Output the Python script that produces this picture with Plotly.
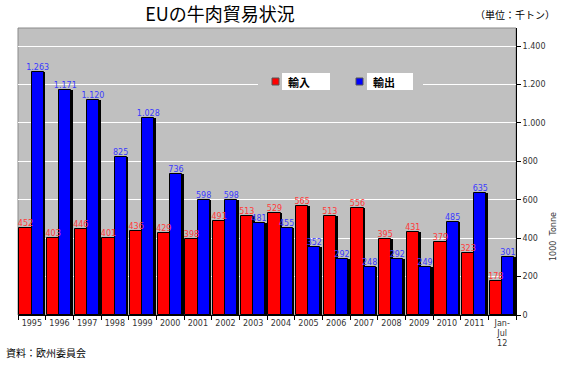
import plotly.graph_objects as go

categories = ["1995", "1996", "1997", "1998", "1999", "2000", "2001", "2002", "2003",
              "2004", "2005", "2006", "2007", "2008", "2009", "2010", "2011", "Jan-<br>Jul<br>12"]
imports = [452, 403, 446, 401, 436, 429, 398, 491, 513, 529, 565, 513, 556, 395, 431, 379, 323, 178]
exports = [1263, 1171, 1120, 825, 1028, 736, 598, 598, 481, 455, 352, 292, 248, 292, 249, 485, 635, 301]
y_ticks = [0, 200, 400, 600, 800, 1000, 1200, 1400]

W, H = 561, 375
L, R, T, B = 18, 516, 28, 315


def px(x):
    return (x - L) / (R - L)


def py(y):
    return (B - y) / (B - T)


fig = go.Figure()
FONT = "DejaVu Sans"
JP = "Noto Sans CJK JP"
RED_OFF, BLUE_OFF, BW = -0.45, -0.01, 0.44
idx = list(range(len(categories)))

# shadows
for vals, off in [(imports, RED_OFF), (exports, BLUE_OFF)]:
    fig.add_trace(go.Bar(x=categories, y=vals, offset=off + 0.06, width=BW,
                         marker=dict(color="black", line=dict(width=0)),
                         showlegend=False, hoverinfo="skip"))

fig.add_trace(go.Bar(x=categories, y=imports, name="輸入", offset=RED_OFF, width=BW,
                     marker=dict(color="#FF0000", line=dict(color="black", width=1)),
                     showlegend=False))
fig.add_trace(go.Bar(x=categories, y=exports, name="輸出", offset=BLUE_OFF, width=BW,
                     marker=dict(color="#0000FF", line=dict(color="black", width=1)),
                     showlegend=False))

# value labels (drawn on top of all bars)
for vals, off, col in [(imports, RED_OFF, "#ff3a3a"), (exports, BLUE_OFF, "#3a3aff")]:
    fig.add_trace(go.Scatter(x=[i + off + BW / 2 for i in idx], y=vals, xaxis="x2",
                             mode="text", text=[f"{v:,}".replace(",", ".") for v in vals],
                             textposition="top center",
                             textfont=dict(family=FONT, size=8, color=col),
                             cliponaxis=False, showlegend=False, hoverinfo="skip"))

shapes = [
    dict(type="rect", xref="paper", yref="paper", x0=0, x1=1, y0=0, y1=1,
         line=dict(color="#8a8a8a", width=1), layer="below"),
    dict(type="rect", xref="paper", yref="paper", x0=px(258), x1=px(423), y0=py(93), y1=py(70),
         fillcolor="#C0C0C0", line=dict(width=0), layer="above"),
    dict(type="rect", xref="paper", yref="paper", x0=px(282), x1=px(330), y0=py(90), y1=py(73),
         fillcolor="white", line=dict(width=0), layer="above"),
    dict(type="rect", xref="paper", yref="paper", x0=px(367), x1=px(413), y0=py(90), y1=py(73),
         fillcolor="white", line=dict(width=0), layer="above"),
    dict(type="rect", xref="paper", yref="paper", x0=px(272), x1=px(279), y0=py(85), y1=py(78),
         fillcolor="#FF0000", line=dict(color="#555555", width=1), layer="above"),
    dict(type="rect", xref="paper", yref="paper", x0=px(356), x1=px(363), y0=py(85), y1=py(78),
         fillcolor="#0000FF", line=dict(color="#555555", width=1), layer="above"),
]

annotations = [
    dict(text="<b>輸入</b>", xref="paper", yref="paper", x=px(286), y=py(81.5),
         xanchor="left", yanchor="middle", showarrow=False,
         font=dict(family=JP, size=11, color="black")),
    dict(text="<b>輸出</b>", xref="paper", yref="paper", x=px(371), y=py(81.5),
         xanchor="left", yanchor="middle", showarrow=False,
         font=dict(family=JP, size=11, color="black")),
    dict(text="（単位：千トン）", xref="paper", yref="paper", x=px(557), y=py(15),
         xanchor="right", yanchor="middle", showarrow=False,
         font=dict(family=JP, size=10, color="black")),
    dict(text="資料：欧州委員会", xref="paper", yref="paper", x=px(4), y=py(352),
         xanchor="left", yanchor="middle", showarrow=False,
         font=dict(family=JP, size=10, color="black")),
    dict(text="1000  Tonne", xref="paper", yref="paper", x=px(553), y=py(237),
         xanchor="center", yanchor="middle", showarrow=False, textangle=-90,
         font=dict(family=FONT, size=8, color="#333333")),
]

fig.update_layout(
    width=W, height=H,
    margin=dict(l=L, r=W - R, t=T, b=H - B),
    paper_bgcolor="white", plot_bgcolor="#C0C0C0",
    barmode="overlay",
    separators=",.",
    title=dict(text="EUの牛肉貿易状況", x=220 / W, xref="container", xanchor="center",
               y=1 - 15 / H, yref="container", yanchor="middle",
               font=dict(family=JP, size=18, color="black")),
    shapes=shapes, annotations=annotations,
    xaxis=dict(type="category", tickson="boundaries", ticks="outside", ticklen=4,
               tickcolor="black", showline=True, linecolor="black", linewidth=1,
               showgrid=False, tickangle=0,
               tickfont=dict(family=FONT, size=8, color="#333333"),
               range=[-0.5, 17.5]),
    xaxis2=dict(overlaying="x", range=[-0.5, 17.5], visible=False, fixedrange=True),
    yaxis=dict(side="right", range=[0, 1494], tickvals=y_ticks, tickformat=",d",
               ticks="outside", ticklen=4, tickcolor="black", showline=True,
               linecolor="black", linewidth=1, gridcolor="white", gridwidth=1,
               zeroline=False, tickfont=dict(family=FONT, size=8, color="#333333")),
    bargap=0, showlegend=False,
)

fig.write_html("out.html", config={"displayModeBar": False},
               post_script="document.body.style.margin='0px';")
